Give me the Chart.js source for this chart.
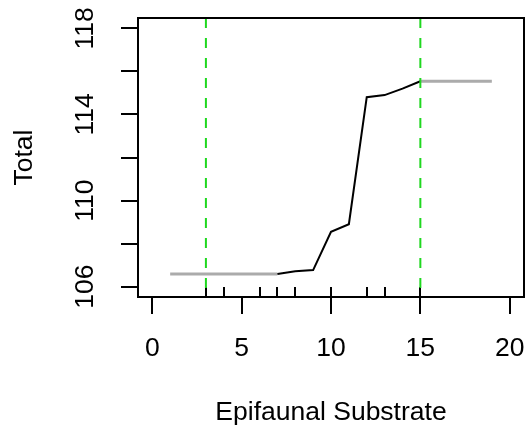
<!DOCTYPE html>
<html>
<head>
<meta charset="utf-8">
<script src="https://cdn.jsdelivr.net/npm/chart.js@4.4.1/dist/chart.umd.min.js"></script>
<style>
  html, body { margin: 0; padding: 0; background: #fff; }
  #wrap { width: 526px; height: 427px; }
</style>
</head>
<body>
<div id="wrap"><canvas id="chart" width="526" height="427"></canvas></div>
<script>
// Partial dependence of Total on Epifaunal Substrate
const substrate = [1, 2, 3, 4, 5, 6, 7, 8, 9, 10, 11, 12, 13, 14, 15, 16, 17, 18, 19];
const total = [106.59, 106.59, 106.59, 106.59, 106.59, 106.59, 106.59, 106.72, 106.77, 108.55, 108.9,
  114.8, 114.9, 115.2, 115.54, 115.54, 115.54, 115.54, 115.54];
// black part of the curve covers this x range, grey outside
const innerRange = [7, 15];
// rug marks along the bottom (observed x values)
const rugX = [3, 4, 6, 7, 8, 10, 12, 13, 15];
// green dashed lines (deciles)
const decileX = [3, 15];

const xTicks = [0, 5, 10, 15, 20];
const yTicks = [106, 108, 110, 112, 114, 116, 118];
const yLabelTicks = [106, 110, 114, 118];
const xLimits = [-0.8, 20.8];
const yLimits = [105.52, 118.48];

const xTitle = 'Epifaunal Substrate';
const yTitle = 'Total';

const FONT = '"Liberation Sans", Arial, sans-serif';
const FONT_SIZE = 26.5;

function points(filterFn) {
  return substrate.map((x, i) => ({ x: x, y: total[i] })).map(p => filterFn(p.x) ? p : { x: p.x, y: null });
}

const greyData = points(x => x <= innerRange[0] || x >= innerRange[1]);
const blackData = points(x => x >= innerRange[0] && x <= innerRange[1]);

const decileSets = decileX.map(x => ({
  data: [{ x: x, y: yLimits[1] }, { x: x, y: yLimits[0] }],
  borderColor: '#1fd81f',
  borderWidth: 2,
  borderDash: [10, 10],
  pointRadius: 0,
  order: 0
}));

// box, rug, rotated y labels and axis titles
const decorations = {
  id: 'decorations',
  beforeDatasetsDraw(chart) {
    const { ctx, chartArea } = chart;
    const xs = chart.scales.x;
    ctx.save();
    ctx.strokeStyle = '#000';
    ctx.lineWidth = 2;
    ctx.beginPath();
    rugX.forEach(v => {
      const px = Math.round(xs.getPixelForValue(v));
      ctx.moveTo(px, chartArea.bottom);
      ctx.lineTo(px, chartArea.bottom - 10);
    });
    ctx.stroke();
    ctx.restore();
  },
  afterDraw(chart) {
    const { ctx, chartArea } = chart;
    const ys = chart.scales.y;
    ctx.save();
    ctx.strokeStyle = '#000';
    ctx.lineWidth = 2;
    ctx.strokeRect(chartArea.left, chartArea.top, chartArea.right - chartArea.left, chartArea.bottom - chartArea.top);

    ctx.fillStyle = '#000';
    ctx.font = FONT_SIZE + 'px ' + FONT;
    ctx.textAlign = 'center';
    ctx.textBaseline = 'middle';
    yLabelTicks.forEach(v => {
      const py = ys.getPixelForValue(v);
      ctx.save();
      ctx.translate(86, py);
      ctx.rotate(-Math.PI / 2);
      ctx.fillText(String(v), 0, 0);
      ctx.restore();
    });

    ctx.save();
    ctx.translate(25, (chartArea.top + chartArea.bottom) / 2);
    ctx.rotate(-Math.PI / 2);
    ctx.fillText(yTitle, 0, 0);
    ctx.restore();

    ctx.fillText(xTitle, (chartArea.left + chartArea.right) / 2, 413);
    ctx.restore();
  }
};

new Chart(document.getElementById('chart'), {
  type: 'line',
  data: {
    datasets: [
      {
        data: greyData,
        borderColor: '#ababab',
        borderWidth: 3,
        pointRadius: 0,
        spanGaps: false,
        order: 2
      },
      {
        data: blackData,
        borderColor: '#000',
        borderWidth: 2,
        pointRadius: 0,
        spanGaps: false,
        order: 1
      },
      ...decileSets
    ]
  },
  options: {
    responsive: false,
    animation: false,
    events: [],
    layout: { padding: { top: 18, right: 2, left: 0, bottom: 0 } },
    plugins: {
      legend: { display: false },
      tooltip: { enabled: false }
    },
    scales: {
      x: {
        type: 'linear',
        min: xLimits[0],
        max: xLimits[1],
        afterBuildTicks: s => { s.ticks = xTicks.map(v => ({ value: v })); },
        afterFit: s => {
          s.height = 130;
          // let the last label hang past the plot box, as in R
          s.paddingLeft = 0;
          s.paddingRight = 0;
        },
        grid: { drawOnChartArea: false, drawTicks: true, tickLength: 17, lineWidth: 2, color: '#000' },
        border: { display: false },
        ticks: {
          color: '#000',
          padding: 19,
          maxRotation: 0,
          font: { family: FONT, size: FONT_SIZE }
        }
      },
      y: {
        type: 'linear',
        min: yLimits[0],
        max: yLimits[1],
        afterBuildTicks: s => { s.ticks = yTicks.map(v => ({ value: v })); },
        afterFit: s => { s.width = 138; },
        grid: { drawOnChartArea: false, drawTicks: true, tickLength: 17, lineWidth: 2, color: '#000' },
        border: { display: false },
        ticks: { display: false }
      }
    }
  },
  plugins: [decorations]
});
</script>
</body>
</html>
